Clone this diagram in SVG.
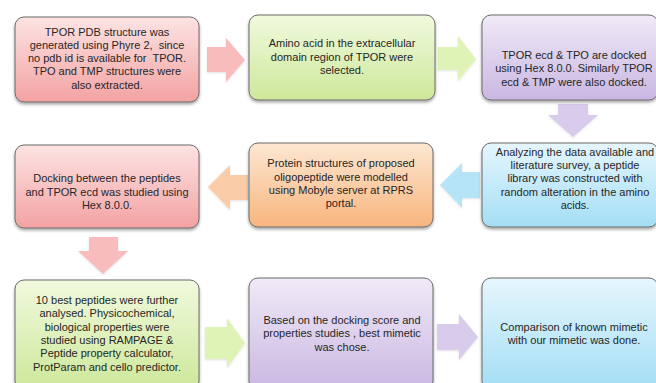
<svg xmlns="http://www.w3.org/2000/svg" width="656" height="383" viewBox="0 0 656 383">
<defs>
<linearGradient id="gPink" x1="0" y1="0" x2="0" y2="1"><stop offset="0" stop-color="#fde3e3"/><stop offset="1" stop-color="#f3a2a2"/></linearGradient>
<linearGradient id="gGreen" x1="0" y1="0" x2="0" y2="1"><stop offset="0" stop-color="#f1f9de"/><stop offset="1" stop-color="#cde89a"/></linearGradient>
<linearGradient id="gPurple" x1="0" y1="0" x2="0" y2="1"><stop offset="0" stop-color="#f0eaf7"/><stop offset="1" stop-color="#cab7e2"/></linearGradient>
<linearGradient id="gOrange" x1="0" y1="0" x2="0" y2="1"><stop offset="0" stop-color="#fde7d2"/><stop offset="1" stop-color="#f8b57e"/></linearGradient>
<linearGradient id="gBlue" x1="0" y1="0" x2="0" y2="1"><stop offset="0" stop-color="#e6f6fd"/><stop offset="1" stop-color="#a3def5"/></linearGradient>
<filter id="sh" x="-10%" y="-10%" width="120%" height="130%"><feDropShadow dx="0" dy="2" stdDeviation="1.5" flood-color="#000" flood-opacity="0.35"/></filter>
<filter id="ash" x="-20%" y="-20%" width="140%" height="140%"><feDropShadow dx="0" dy="1" stdDeviation="1" flood-color="#000" flood-opacity="0.12"/></filter>
</defs>
<style>
.box{stroke:#6b6b6b;stroke-width:1;filter:url(#sh)}
text{font-family:"Liberation Sans",Arial,sans-serif;font-size:11px;fill:#262626;text-anchor:middle;white-space:pre}
.arr{filter:url(#ash)}
</style>
<rect width="656" height="383" fill="#ffffff"/>
<g id="connectors">
<polygon class="arr" fill="#f8bcbc" points="207,47 226,47 226,38 245,60 226,82 226,72 207,72"/>
<polygon class="arr" fill="#dff3b6" points="438,47 458,47 458,36 476,59 458,81 458,70 438,70"/>
<polygon class="arr" fill="#d8cbec" points="558,104 588,104 588,115 598,115 573,137 548,115 558,115"/>
<polygon class="arr" fill="#b5e4f6" points="480,172 462,172 462,163 440,185 462,208 462,198 480,198"/>
<polygon class="arr" fill="#facda8" points="248,175 230,175 230,165 208,187 230,210 230,200 248,200"/>
<polygon class="arr" fill="#f8bcbc" points="89,237 118,237 118,251 128,251 103,274 78,251 89,251"/>
<polygon class="arr" fill="#dff3b6" points="205,327 227,327 227,318 245,343 227,368 227,359 205,359"/>
<polygon class="arr" fill="#d8cbec" points="437,324 459,324 459,314 478,337 459,360 459,350 437,350"/>
</g>
<g id="n1">
<rect class="box" x="15" y="17" width="184" height="85" rx="9" fill="url(#gPink)"/>
<text x="107" y="36">TPOR PDB structure was</text>
<text x="107" y="49">generated using Phyre 2,  since</text>
<text x="107" y="62">no pdb id is available for  TPOR.</text>
<text x="107" y="75">TPO and TMP structures were</text>
<text x="107" y="89">also extracted.</text>
</g>
<g id="n2">
<rect class="box" x="249" y="15" width="186" height="85" rx="9" fill="url(#gGreen)"/>
<text x="342" y="47">Amino acid in the extracellular</text>
<text x="342" y="61">domain region of TPOR were</text>
<text x="342" y="74">selected.</text>
</g>
<g id="n3">
<rect class="box" x="482" y="15" width="176" height="85" rx="9" fill="url(#gPurple)"/>
<text x="574" y="59">TPOR ecd &amp; TPO are docked</text>
<text x="574" y="72">using Hex 8.0.0. Similarly TPOR</text>
<text x="574" y="86">ecd &amp; TMP were also docked.</text>
</g>
<g id="n4">
<rect class="box" x="482" y="143" width="176" height="84" rx="9" fill="url(#gBlue)"/>
<text x="575" y="156">Analyzing the data available and</text>
<text x="575" y="169">literature survey, a peptide</text>
<text x="575" y="182">library was constructed with</text>
<text x="575" y="196">random alteration in the amino</text>
<text x="575" y="209">acids.</text>
</g>
<g id="n5">
<rect class="box" x="249" y="143" width="184" height="84" rx="9" fill="url(#gOrange)"/>
<text x="341" y="167">Protein structures of proposed</text>
<text x="341" y="181">oligopeptide were modelled</text>
<text x="341" y="194">using Mobyle server at RPRS</text>
<text x="341" y="207">portal.</text>
</g>
<g id="n6">
<rect class="box" x="15" y="145" width="184" height="83" rx="9" fill="url(#gPink)"/>
<text x="107" y="182">Docking between the peptides</text>
<text x="107" y="196">and TPOR ecd was studied using</text>
<text x="107" y="209">Hex 8.0.0.</text>
</g>
<g id="n7">
<rect class="box" x="15" y="280" width="184" height="110" rx="9" fill="url(#gGreen)"/>
<text x="107" y="304">10 best peptides were further</text>
<text x="107" y="317">analysed. Physicochemical,</text>
<text x="107" y="331">biological properties were</text>
<text x="107" y="344">studied using RAMPAGE &amp;</text>
<text x="107" y="357">Peptide property calculator,</text>
<text x="107" y="371">ProtParam and cello predictor.</text>
</g>
<g id="n8">
<rect class="box" x="249" y="278" width="184" height="112" rx="9" fill="url(#gPurple)"/>
<text x="342" y="324">Based on the docking score and</text>
<text x="342" y="337">properties studies , best mimetic</text>
<text x="342" y="351">was chose.</text>
</g>
<g id="n9">
<rect class="box" x="482" y="278" width="176" height="112" rx="9" fill="url(#gBlue)"/>
<text x="574" y="331">Comparison of known mimetic</text>
<text x="574" y="344">with our mimetic was done.</text>
</g>
</svg>
